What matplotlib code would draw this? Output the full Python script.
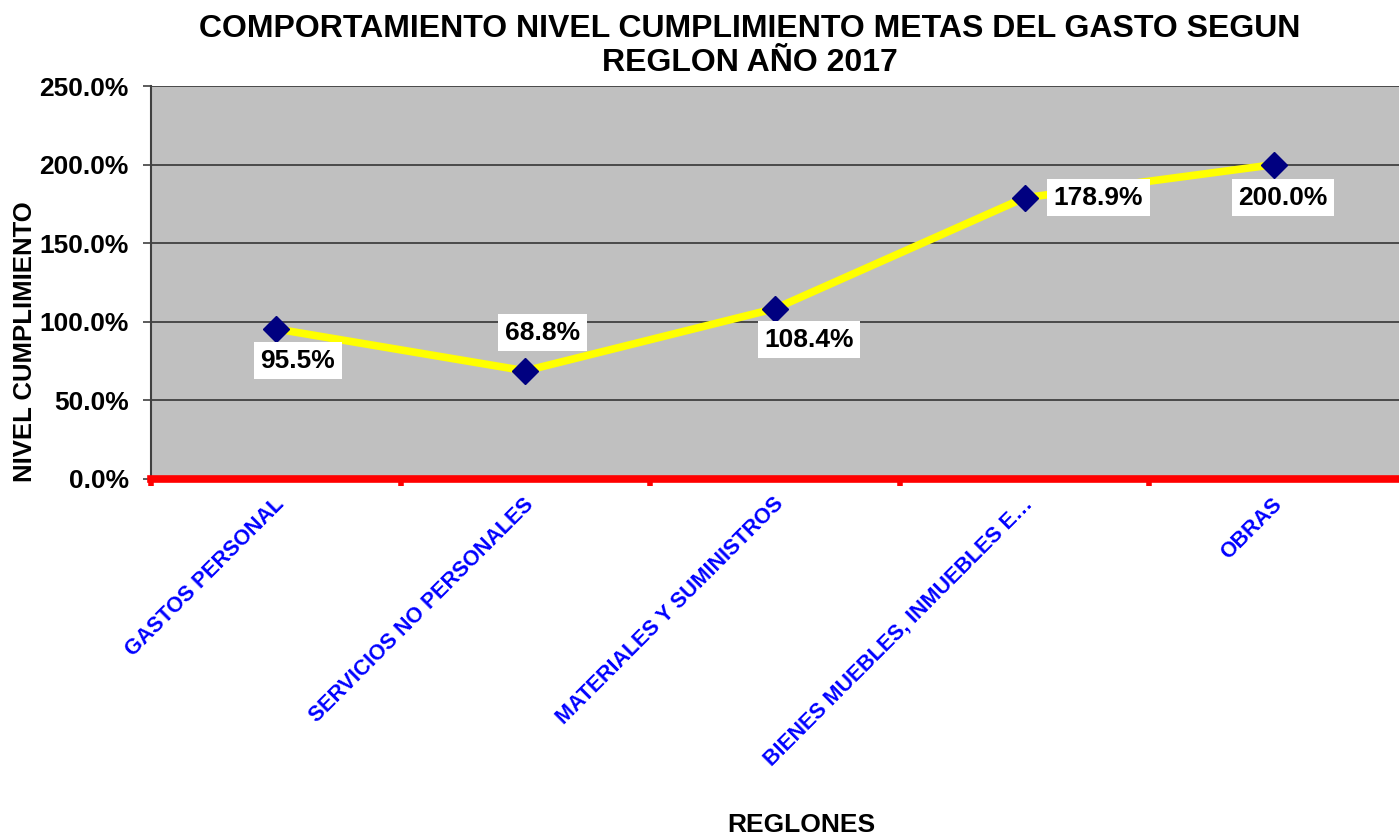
import matplotlib
matplotlib.use('Agg')
import matplotlib.pyplot as plt
import matplotlib.transforms as mtransforms
from matplotlib.ticker import FuncFormatter, FixedLocator
import numpy as np

plt.rcParams['font.family'] = ['Liberation Sans', 'DejaVu Sans']
plt.rcParams['font.weight'] = 'bold'

# datos
regiones = ["GASTOS PERSONAL", "SERVICIOS NO PERSONALES", "MATERIALES Y SUMINISTROS",
            "BIENES MUEBLES, INMUEBLES E…", "OBRAS"]
cumplimiento = [95.5, 68.8, 108.4, 178.9, 200.0]
# desplazamiento de cada etiqueta (pixeles)
label_offsets = [(22, -32), (17, 38), (34, -31), (74, 0), (9, -33)]

fig = plt.figure(figsize=(13.99, 8.36), dpi=100)
ax = fig.add_axes([151 / 1399, 1 - 479 / 836, 1248 / 1399, 393 / 836])
ax.set_facecolor('#C0C0C0')

x = np.arange(len(regiones)) + 0.5
ax.plot(x, cumplimiento, color='#FFFF00', linewidth=5.5, zorder=3,
        marker='D', markersize=13, markerfacecolor='#000080', markeredgecolor='#000080')

for xi, yi, (dx, dy) in zip(x, cumplimiento, label_offsets):
    ax.annotate(f'{yi:.1f}%', (xi, yi), xytext=(dx, dy), textcoords='offset pixels',
                ha='center', va='center', fontsize=19, fontweight='bold', color='black',
                bbox=dict(boxstyle='square,pad=0.25', facecolor='white', edgecolor='none'),
                zorder=4)

ax.set_xlim(0, len(regiones))
ax.set_ylim(0, 250)
ax.yaxis.set_major_locator(FixedLocator([0, 50, 100, 150, 200, 250]))
ax.yaxis.set_major_formatter(FuncFormatter(lambda v, p: f'{v:.1f}%'))
ax.grid(axis='y', color='#404040', linewidth=1.3)
ax.set_axisbelow(True)

# ejes
ax.spines['top'].set_visible(False)
ax.spines['right'].set_visible(False)
ax.spines['left'].set_color('#404040')
ax.spines['left'].set_linewidth(1.5)
ax.spines['bottom'].set_color('#FF0000')
ax.spines['bottom'].set_linewidth(5.5)
ax.spines['bottom'].set_zorder(5)

ax.tick_params(axis='y', labelsize=19, colors='#404040', labelcolor='black',
               length=6, width=1.2, pad=10)
ax.set_xticks(np.arange(len(regiones)))
ax.set_xticks(x, minor=True)
ax.set_xticklabels([])
ax.set_xticklabels(regiones, minor=True)
ax.tick_params(axis='x', which='major', colors='#FF0000', length=5, width=4)
ax.tick_params(axis='x', which='minor', length=0, pad=16, labelsize=15.5, labelcolor='#0000FF')
shift = mtransforms.ScaledTranslation(5 / 100, 0, fig.dpi_scale_trans)
for lbl in ax.get_xticklabels(minor=True):
    lbl.set_rotation(45)
    lbl.set_ha('right')
    lbl.set_va('center')
    lbl.set_rotation_mode('anchor')
    lbl.set_fontweight('bold')
    lbl.set_transform(lbl.get_transform() + shift)
for lbl in ax.get_yticklabels():
    lbl.set_fontweight('bold')

fig.text(750 / 1399, 1 - 46 / 836,
         'COMPORTAMIENTO NIVEL CUMPLIMIENTO METAS DEL GASTO SEGUN\nREGLON AÑO 2017',
         ha='center', va='center', fontsize=23, fontweight='bold', linespacing=1.15)
fig.text(25 / 1399, 1 - 342 / 836, 'NIVEL CUMPLIMIENTO', rotation=90,
         ha='center', va='center', fontsize=18.5, fontweight='bold')
fig.text(801 / 1399, 1 - 825 / 836, 'REGLONES', ha='center', va='center',
         fontsize=19, fontweight='bold')

fig.savefig('out.png', dpi=100)
